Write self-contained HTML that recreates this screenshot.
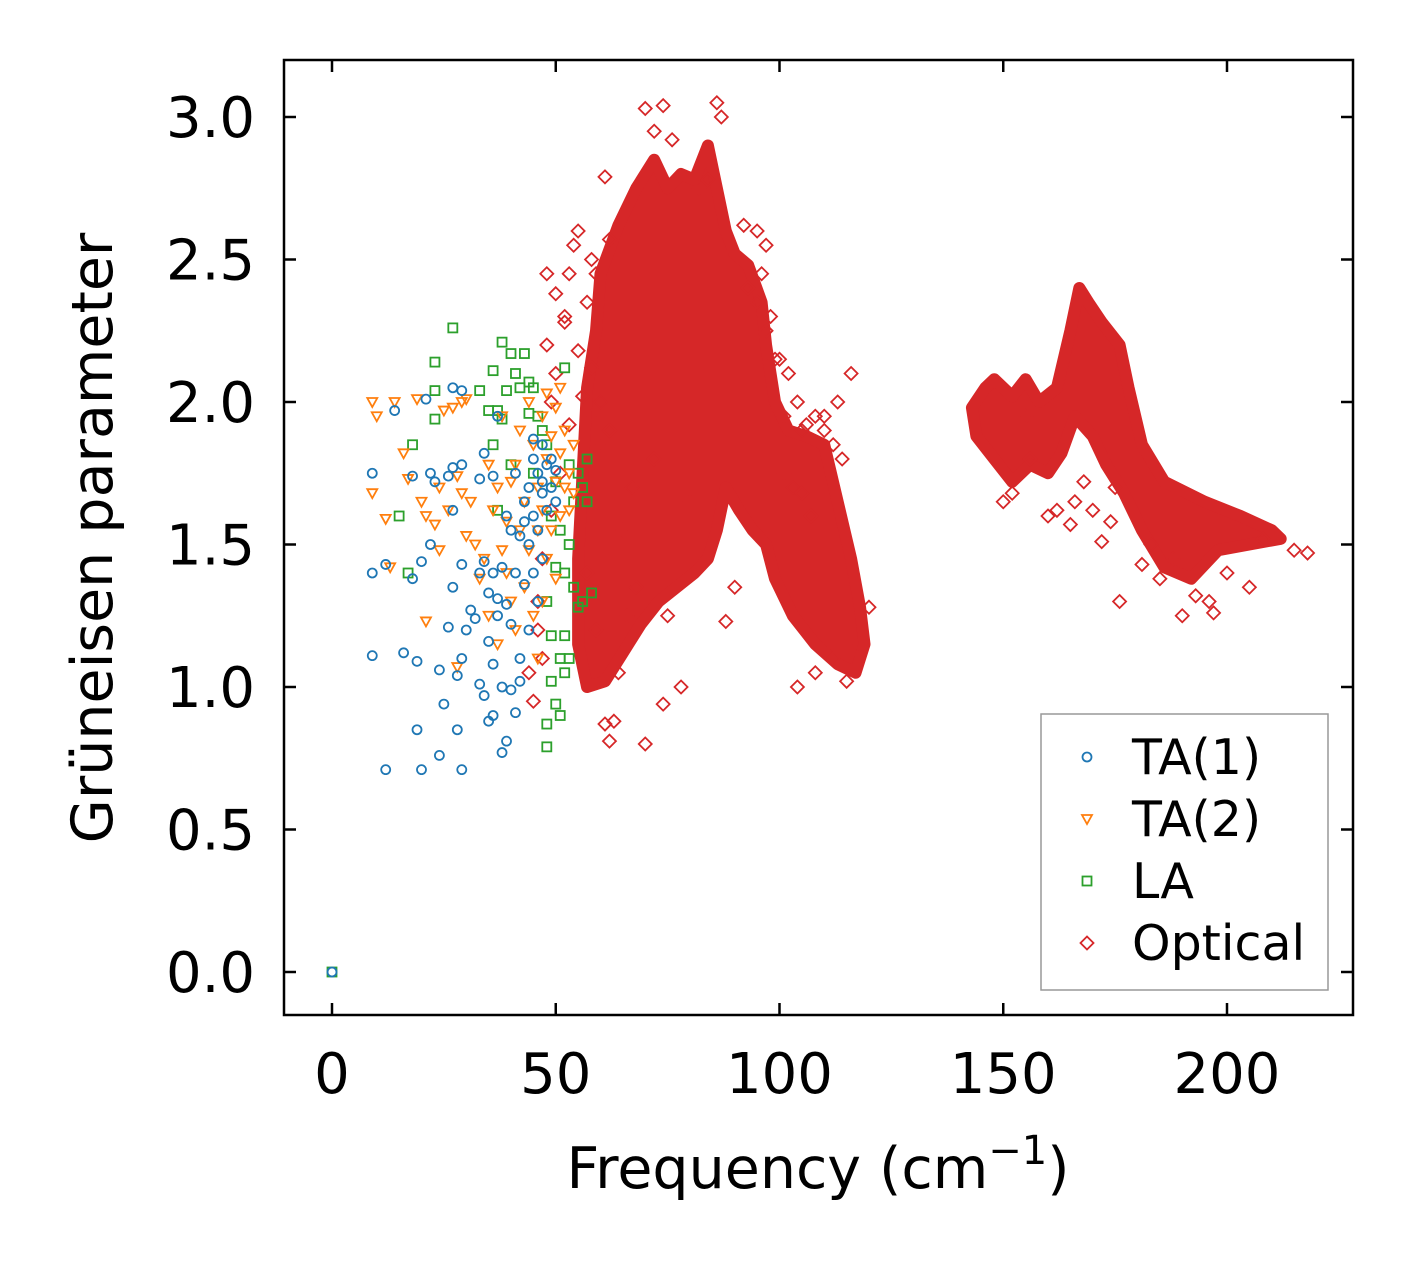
<!DOCTYPE html>
<html><head><meta charset="utf-8"><style>
html,body{margin:0;padding:0;background:#fff;}
svg text{font-family:"DejaVu Sans","Liberation Sans",sans-serif;fill:#000;}
</style></head><body>
<svg id="chart" width="1413" height="1264" xmlns="http://www.w3.org/2000/svg">
<rect width="1413" height="1264" fill="#fff"/>
<g id="marks"></g>
<g id="axes"></g>
</svg>
<script>
const xTicks=[0,50,100,150,200];
const yTicks=[0.0,0.5,1.0,1.5,2.0,2.5,3.0];
const ta1F=[0,9,9,9,12,12,14,16,18,18,19,19,20,20,21,22,22,23,24,24,25,26,26,27,27,27,28,28,29,29,29,29,30,31,32,33,33,33,34,34,34,35,35,35,36,36,36,36,37,37,38,38,38,39,39,39,40,40,40,41,41,42,42,42,43,43,44,44,44,45,45,45,46,46,46,47,47,47,48,48,49,49,50,50,27,29,37,41,43,45,47];
const ta1G=[0,1.75,1.4,1.11,1.43,0.71,1.97,1.12,1.74,1.38,1.09,0.85,1.44,0.71,2.01,1.75,1.5,1.72,1.06,0.76,0.94,1.74,1.21,1.77,1.62,1.35,1.04,0.85,1.78,1.43,1.1,0.71,1.2,1.27,1.24,1.73,1.4,1.01,1.82,1.44,0.97,1.33,1.16,0.88,1.74,1.4,1.08,0.9,1.31,1.25,1.0,1.42,0.77,1.6,1.29,0.81,1.55,1.22,0.99,1.4,0.91,1.53,1.1,1.02,1.65,1.36,1.7,1.5,1.2,1.8,1.6,1.4,1.75,1.55,1.3,1.85,1.68,1.45,1.78,1.62,1.8,1.7,1.76,1.65,2.05,2.04,1.95,1.75,1.58,1.87,1.72];
const ta2F=[9,9,10,12,13,14,16,17,19,20,21,21,23,24,24,25,26,27,28,28,29,29,30,30,31,32,33,34,35,35,36,37,37,38,38,39,39,40,40,41,41,42,42,43,43,44,44,45,45,46,46,46,47,47,47,48,48,48,49,49,50,50,50,51,51,51,52,52,53,53,54,54];
const ta2G=[2.0,1.68,1.95,1.59,1.42,2.0,1.82,1.73,2.01,1.65,1.6,1.23,1.57,1.7,1.48,1.97,1.62,1.98,1.74,1.07,2.0,1.68,2.01,1.53,1.65,1.5,1.38,1.45,1.78,1.25,1.62,1.7,1.15,1.95,1.48,1.58,1.4,1.72,1.3,1.78,1.2,1.9,1.55,1.65,1.35,2.0,1.48,1.85,1.25,1.7,1.55,1.1,1.95,1.62,1.3,2.03,1.8,1.45,1.88,1.55,1.98,1.72,1.38,2.05,1.82,1.6,1.9,1.7,1.75,1.62,1.68,1.85];
const laF=[0,15,17,18,23,23,23,27,33,35,36,36,37,37,38,38,39,40,40,41,42,43,44,44,45,45,46,47,48,48,48,48,49,49,50,50,50,51,51,51,52,52,52,53,53,53,54,54,55,55,56,56,57,57,58,49,52];
const laG=[0,1.6,1.4,1.85,2.14,2.04,1.94,2.26,2.04,1.97,2.11,1.85,1.97,1.62,2.21,1.94,2.04,1.78,2.17,2.1,2.05,2.17,1.96,2.07,2.05,1.75,1.95,1.9,1.85,1.3,0.87,0.79,1.6,1.18,1.72,1.42,0.94,1.1,1.55,0.9,2.12,1.4,1.18,1.78,1.5,1.1,1.65,1.35,1.75,1.28,1.7,1.3,1.65,1.8,1.33,1.02,1.05];
const optBlobAF=[60,64,68,72,75,78,81,84,86,88,90,93,96,97,99,102,106,110,113,116,118,119,117,113,108,103,99,97,94,91,88,86,84,81,77,73,69,65,61,57,55,55,56,57,59];
const optBlobAG=[2.45,2.62,2.75,2.85,2.75,2.8,2.78,2.9,2.75,2.6,2.52,2.48,2.35,2.2,2.0,1.9,1.88,1.85,1.65,1.45,1.28,1.15,1.05,1.08,1.15,1.25,1.38,1.5,1.55,1.62,1.7,1.55,1.45,1.4,1.35,1.3,1.22,1.12,1.02,1.0,1.15,1.45,1.75,2.05,2.25];
const optBlobBF=[143,146,148,152,155,158,162,165,167,169,172,176,178,181,186,195,203,210,212,205,198,192,186,181,177,173,170,166,163,160,156,152,148,144];
const optBlobBG=[1.98,2.05,2.08,2.02,2.08,2.0,2.05,2.25,2.4,2.35,2.28,2.2,2.05,1.85,1.72,1.65,1.6,1.55,1.52,1.5,1.48,1.38,1.42,1.55,1.68,1.78,1.88,1.95,1.82,1.75,1.78,1.72,1.8,1.88];
const optF=[70,72,74,76,86,87,84,82,61,62,55,54,53,52,48,49,50,57,58,59,47,46,44,45,63,62,61,64,70,74,78,66,68,75,88,90,92,95,96,97,101,105,110,113,116,118,120,115,108,104,112,65,67,80,72,150,152,156,162,165,168,170,172,174,176,181,185,190,193,196,197,200,205,208,215,218,160,175,166,155,183,188,48,50,52,55,56,58,60,53,51,49,47,46,57,59,58,60,62,98,100,102,104,106,108,110,112,114,93,95,97,99,101,103,105,107];
const optG=[3.03,2.95,3.04,2.92,3.05,3.0,2.78,2.75,2.79,2.57,2.6,2.55,2.45,2.3,2.2,2.0,2.1,2.35,2.5,2.45,1.1,1.2,1.05,0.95,0.88,0.81,0.87,1.05,0.8,0.94,1.0,1.25,1.35,1.25,1.23,1.35,2.62,2.6,2.45,2.55,1.95,1.9,1.95,2.0,2.1,1.15,1.28,1.02,1.05,1.0,1.1,1.55,1.7,1.65,1.8,1.65,1.68,1.8,1.62,1.57,1.72,1.62,1.51,1.58,1.3,1.43,1.38,1.25,1.32,1.3,1.26,1.4,1.35,1.52,1.48,1.47,1.6,1.7,1.65,1.95,1.5,1.45,2.45,2.38,2.28,2.18,2.02,1.95,1.85,1.92,1.75,1.62,1.45,1.3,1.4,1.2,2.12,2.0,1.9,2.3,2.15,2.1,2.0,1.92,1.95,1.9,1.85,1.8,2.4,2.35,2.25,2.15,1.75,1.7,1.68,1.6];
const C={ta1:'#1f77b4',ta2:'#ff7f0e',la:'#2ca02c',op:'#d62728'};
const X0=284,X1=1353,Y0=60,Y1=1015;
function sx(v){return 332+v*(1227-332)/200;}
function sy(v){return 972-v*(972-117)/3;}
const NS='http://www.w3.org/2000/svg';
const marks=document.getElementById('marks'),axes=document.getElementById('axes');
function el(tag,attrs,parent){const e=document.createElementNS(NS,tag);for(const k in attrs)e.setAttribute(k,attrs[k]);parent.appendChild(e);return e;}
function marker(type,x,y,col,parent){
  let e;
  if(type==='circle')e=el('circle',{cx:x,cy:y,r:4.5,fill:'none',stroke:col,'stroke-width':1.8},parent);
  else if(type==='tri')e=el('polygon',{points:`${x-5},${y-4} ${x+5},${y-4} ${x},${y+5}`,fill:'none',stroke:col,'stroke-width':1.8},parent);
  else if(type==='sq')e=el('rect',{x:x-4.5,y:y-4.5,width:9,height:9,fill:'none',stroke:col,'stroke-width':1.8},parent);
  else e=el('polygon',{points:`${x},${y-6.5} ${x+6.5},${y} ${x},${y+6.5} ${x-6.5},${y}`,fill:'none',stroke:col,'stroke-width':1.8},parent);
  return e;
}
[[optBlobAF,optBlobAG],[optBlobBF,optBlobBG]].forEach((b,i)=>{
  const p=el('polygon',{points:b[0].map((f,j)=>sx(f)+','+sy(b[1][j])).join(' '),fill:C.op,stroke:C.op,'stroke-width':12,'stroke-linejoin':'round'},marks);
  
  
});
optF.forEach((f,i)=>{const m=marker('dia',sx(f),sy(optG[i]),C.op,marks);
  
  });
laF.forEach((f,i)=>{const m=marker('sq',sx(f),sy(laG[i]),C.la,marks);
  
  });
ta2F.forEach((f,i)=>{const m=marker('tri',sx(f),sy(ta2G[i]),C.ta2,marks);
  
  });
ta1F.forEach((f,i)=>{const m=marker('circle',sx(f),sy(ta1G[i]),C.ta1,marks);
  
  });
const fr=el('rect',{x:X0,y:Y0,width:X1-X0,height:Y1-Y0,fill:'none',stroke:'#000','stroke-width':2.5},axes);


xTicks.forEach(v=>{const x=sx(v);
  el('line',{x1:x,y1:Y1,x2:x,y2:Y1-12,stroke:'#000','stroke-width':2.5},axes);
  el('line',{x1:x,y1:Y0,x2:x,y2:Y0+12,stroke:'#000','stroke-width':2.5},axes);
  const t=el('text',{x:x,y:1093,'font-size':56,'text-anchor':'middle'},axes);t.textContent=v;
  
  });
yTicks.forEach(v=>{const y=sy(v);
  el('line',{x1:X0,y1:y,x2:X0+12,y2:y,stroke:'#000','stroke-width':2.5},axes);
  el('line',{x1:X1,y1:y,x2:X1-12,y2:y,stroke:'#000','stroke-width':2.5},axes);
  const t=el('text',{x:255,y:y+20,'font-size':56,'text-anchor':'end'},axes);t.textContent=v.toFixed(1);
  
  });
const xl=el('text',{x:818,y:1188,'font-size':57,'text-anchor':'middle'},axes);
xl.innerHTML='Frequency (cm<tspan dy="-24" font-size="40">−1</tspan><tspan dy="24">)</tspan>';


const yl=el('text',{x:0,y:0,'font-size':57,'text-anchor':'middle',transform:'translate(112,538) rotate(-90)'},axes);
yl.textContent='Grüneisen parameter';


const lg=el('g',{},axes);


el('rect',{x:1041,y:714,width:287,height:276,fill:'#fff',stroke:'#999','stroke-width':1.5},lg);
[['circle','TA(1)',C.ta1,757],['tri','TA(2)',C.ta2,819],['sq','LA',C.la,881],['dia','Optical',C.op,943]].forEach(r=>{
  marker(r[0],1087,r[3],r[2],lg);
  const t=el('text',{x:1132,y:r[3]+17,'font-size':49},lg);t.textContent=r[1];
  
  
});
</script>
</body></html>
